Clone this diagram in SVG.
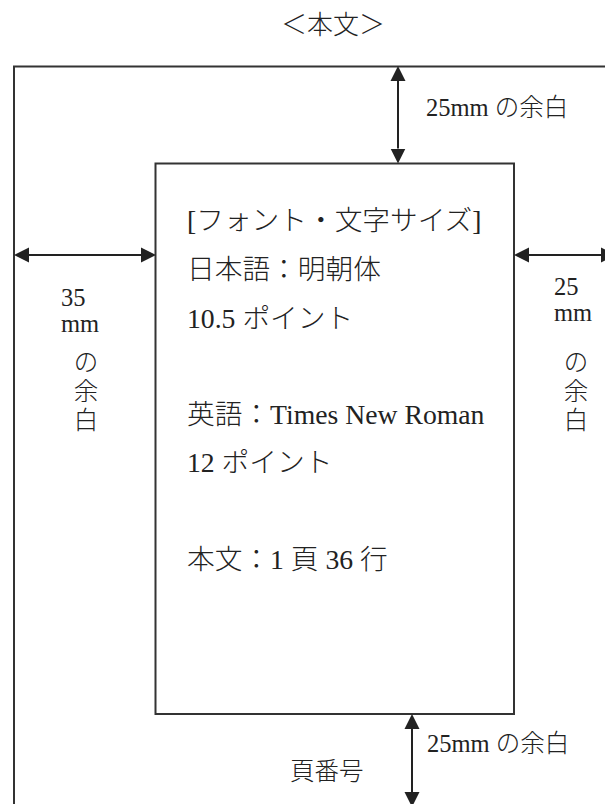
<svg xmlns="http://www.w3.org/2000/svg" width="605" height="804" viewBox="0 0 605 804" xml:lang="ja" lang="ja">
  <style>
    .box { fill: none; stroke: #333; stroke-width: 2; }
    .conn { stroke: #222; stroke-width: 2; fill: none; }
    .t { font-family: "Liberation Serif", "Noto Sans CJK JP", serif; fill: #222; font-weight: 300; }
    .main { font-size: 27.7px; }
    .lab { font-size: 24.5px; }
  </style>
  <defs>
    <marker id="ah" markerUnits="userSpaceOnUse" markerWidth="16" markerHeight="16" refX="0" refY="7.5" orient="auto-start-reverse" viewBox="0 0 16 15">
      <path d="M0,0 L15,7.5 L0,15 Z" fill="#222"/>
    </marker>
  </defs>
  <rect width="605" height="804" fill="#fff"/>

  <g id="title">
    <text class="t" x="333" y="34" font-size="26" text-anchor="middle">＜本文＞</text>
  </g>

  <g id="page">
    <rect class="box" x="14" y="66.5" width="602" height="800"/>
  </g>

  <g id="text-area">
    <rect class="box" x="155.5" y="163.5" width="358.5" height="550.5"/>
    <text class="t main" x="187" y="230">[フォント・文字サイズ]</text>
    <text class="t main" x="187" y="279">日本語：明朝体</text>
    <text class="t main" x="187" y="328">10.5 ポイント</text>
    <text class="t main" x="187" y="424">英語：Times New Roman</text>
    <text class="t main" x="187" y="472">12 ポイント</text>
    <text class="t main" x="187" y="569">本文：1 頁 36 行</text>
  </g>

  <g id="label-top">
    <text class="t lab" x="426" y="116">25mm の余白</text>
  </g>
  <g id="label-left">
    <text class="t lab" x="61" y="306">35</text>
    <text class="t lab" x="61" y="332">mm</text>
    <text class="t lab" x="86" y="371" text-anchor="middle">の</text>
    <text class="t lab" x="86" y="400" text-anchor="middle">余</text>
    <text class="t lab" x="86" y="429" text-anchor="middle">白</text>
  </g>
  <g id="label-right">
    <text class="t lab" x="554" y="295">25</text>
    <text class="t lab" x="554" y="321">mm</text>
    <text class="t lab" x="576" y="371" text-anchor="middle">の</text>
    <text class="t lab" x="576" y="400" text-anchor="middle">余</text>
    <text class="t lab" x="576" y="429" text-anchor="middle">白</text>
  </g>
  <g id="label-bottom">
    <text class="t lab" x="427" y="752">25mm の余白</text>
    <text class="t lab" x="290" y="780">頁番号</text>
  </g>

  <g id="connectors">
    <line class="conn" x1="398" y1="81" x2="398" y2="148.5" marker-start="url(#ah)" marker-end="url(#ah)"/>
    <line class="conn" x1="29" y1="255" x2="141" y2="255" marker-start="url(#ah)" marker-end="url(#ah)"/>
    <line class="conn" x1="529" y1="255" x2="601" y2="255" marker-start="url(#ah)" marker-end="url(#ah)"/>
    <line class="conn" x1="412" y1="729" x2="412" y2="792" marker-start="url(#ah)" marker-end="url(#ah)"/>
  </g>
</svg>
